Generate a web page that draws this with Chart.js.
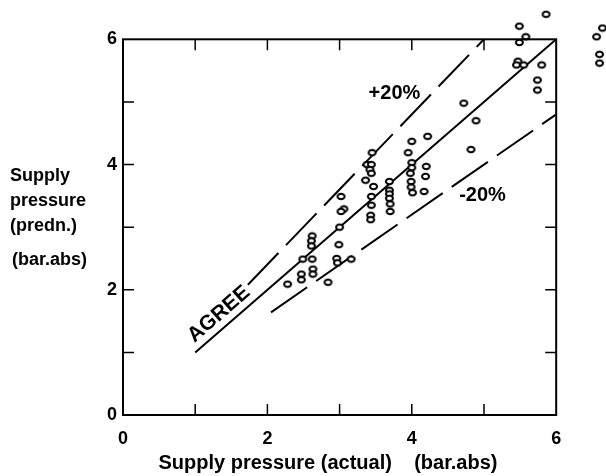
<!DOCTYPE html>
<html>
<head>
<meta charset="utf-8">
<script src="https://cdn.jsdelivr.net/npm/chart.js@4.4.1/dist/chart.umd.min.js"></script>
<style>
  html, body { margin: 0; padding: 0; background: #fff; }
  #wrap { width: 606px; height: 476px; }
</style>
</head>
<body>
<div id="wrap"><canvas id="pressureChart" width="606" height="476"></canvas></div>
<script>
// measured supply pressure (bar.abs)
const actualP = [
  2.28, 2.47, 2.47, 2.49,
  2.62, 2.61, 2.61, 2.62, 2.63, 2.63,
  2.84, 3.16,
  2.96, 2.97, 2.99, 3.00, 3.02, 3.06, 3.02,
  3.45, 3.38, 3.44, 3.42, 3.44, 3.36, 3.47, 3.44, 3.44, 3.43, 3.43,
  3.69, 3.69, 3.69, 3.69, 3.70, 3.70,
  4.00, 3.95, 4.00, 4.00, 3.98, 3.99, 3.99, 4.01, 4.20, 4.19, 4.17, 4.22,
  4.72, 4.89, 4.82,
  5.86, 5.49, 5.58, 5.49, 5.47, 5.45, 5.55, 5.80, 5.74, 5.74,
  6.64, 6.56, 6.60, 6.60
];
// predicted supply pressure (bar.abs)
const predictedP = [
  2.09, 2.25, 2.16, 2.49,
  2.86, 2.78, 2.70, 2.49, 2.33, 2.25,
  2.12, 2.49,
  2.50, 2.43, 2.72, 3.00, 3.49, 3.29, 3.25,
  4.19, 4.00, 4.00, 3.92, 3.86, 3.75, 3.65, 3.49, 3.35, 3.19, 3.12,
  3.73, 3.59, 3.53, 3.46, 3.37, 3.25,
  4.37, 4.19, 4.03, 3.95, 3.86, 3.73, 3.64, 3.55, 3.97, 3.81, 3.57, 4.45,
  4.98, 4.70, 4.24,
  6.40, 6.21, 6.04, 5.95, 5.65, 5.59, 5.59, 5.59, 5.35, 5.19,
  6.18, 6.04, 5.76, 5.62
];

// reference lines: perfect agreement and +/-20 %
const agreeX = [1, 6];
const agreeY = [1, 6];
const plusX = [1.73, 5];
const plusY = [2.08, 6];
const minusX = [2.05, 6];
const minusY = [1.64, 4.8];

const axisTicks = [0, 2, 4, 6];
const minorTicks = [1, 2, 3, 4, 5];
const AXIS_END = 6;

const FONT = '"Liberation Sans", Arial, sans-serif';

function pairs(xs, ys) {
  return xs.map((x, i) => ({ x: x, y: ys[i] }));
}

// small open ellipse used as the point marker
function ringMarker() {
  const c = document.createElement('canvas');
  c.width = 11; c.height = 9;
  const g = c.getContext('2d');
  g.fillStyle = '#fff';
  g.strokeStyle = '#000';
  g.lineWidth = 2;
  g.beginPath();
  g.ellipse(5.5, 4.5, 3.5, 2.7, 0, 0, Math.PI * 2);
  g.fill();
  g.stroke();
  return c;
}

// frame box at 0..6, inward ticks and the text labels
const framePlugin = {
  id: 'frame',
  afterDatasetsDraw(chart) {
    const ctx = chart.ctx;
    const xs = chart.scales.x, ys = chart.scales.y;
    const left = xs.getPixelForValue(0), right = xs.getPixelForValue(AXIS_END);
    const bottom = ys.getPixelForValue(0), top = ys.getPixelForValue(AXIS_END);
    ctx.save();
    ctx.strokeStyle = '#000';
    ctx.lineWidth = 2;
    ctx.strokeRect(left, top, right - left, bottom - top);
    ctx.lineWidth = 1.5;
    const len = 11;
    ctx.beginPath();
    minorTicks.forEach(v => {
      const px = xs.getPixelForValue(v);
      ctx.moveTo(px, bottom); ctx.lineTo(px, bottom - len);
      ctx.moveTo(px, top); ctx.lineTo(px, top + len);
      const py = ys.getPixelForValue(v);
      ctx.moveTo(left, py); ctx.lineTo(left + len, py);
      ctx.moveTo(right, py); ctx.lineTo(right - len, py);
    });
    ctx.stroke();

    ctx.fillStyle = '#000';
    ctx.font = 'bold 20px ' + FONT;
    ctx.textBaseline = 'middle';
    ctx.textAlign = 'center';
    ctx.fillText('+20%', xs.getPixelForValue(3.76), ys.getPixelForValue(5.13));
    ctx.fillText('-20%', xs.getPixelForValue(4.98), ys.getPixelForValue(3.5));

    // AGREE label follows the 1:1 line
    const x0 = xs.getPixelForValue(1.33), y0 = ys.getPixelForValue(1.61);
    const ang = Math.atan2(ys.getPixelForValue(6) - ys.getPixelForValue(1),
                           xs.getPixelForValue(6) - xs.getPixelForValue(1));
    ctx.save();
    ctx.translate(x0, y0);
    ctx.rotate(ang);
    ctx.font = 'bold 21px ' + FONT;
    ctx.fillText('AGREE', 0, 0);
    ctx.restore();

    // axis titles
    ctx.font = 'bold 20px ' + FONT;
    ctx.fillText('Supply pressure (actual)    (bar.abs)', 328, 463);
    ctx.textAlign = 'left';
    ctx.font = 'bold 18px ' + FONT;
    ctx.fillText('Supply', 10, 176);
    ctx.fillText('pressure', 10, 201);
    ctx.fillText('(predn.)', 10, 226);
    ctx.fillText('(bar.abs)', 12, 260);
    ctx.restore();
  }
};

const ctx = document.getElementById('pressureChart').getContext('2d');
const pressureChart = new Chart(ctx, {
  type: 'scatter',
  data: {
    datasets: [
      {
        type: 'line',
        data: pairs(agreeX, agreeY),
        borderColor: '#000',
        borderWidth: 2,
        pointRadius: 0,
        fill: false,
        order: 3
      },
      {
        type: 'line',
        data: pairs(plusX, plusY),
        borderColor: '#000',
        borderWidth: 2,
        borderDash: [44, 11],
        pointRadius: 0,
        fill: false,
        order: 3
      },
      {
        type: 'line',
        data: pairs(minusX, minusY),
        borderColor: '#000',
        borderWidth: 2,
        borderDash: [44, 11],
        pointRadius: 0,
        fill: false,
        order: 3
      },
      {
        data: pairs(actualP, predictedP),
        pointStyle: ringMarker(),
        pointRadius: 4,
        clip: false,
        order: 1
      }
    ]
  },
  options: {
    responsive: false,
    animation: false,
    events: [],
    // plot area runs a little past 6 so the off-scale readings still show
    layout: { autoPadding: false, padding: { left: 0, right: 0, top: 8, bottom: 0 } },
    plugins: {
      legend: { display: false },
      tooltip: { enabled: false }
    },
    scales: {
      x: {
        type: 'linear',
        min: 0,
        max: 6.69,
        afterFit: s => { s.height = 61; s.paddingLeft = 0; s.paddingRight = 0; },
        afterBuildTicks: s => { s.ticks = axisTicks.map(v => ({ value: v })); },
        grid: { display: false, drawTicks: false },
        border: { display: false },
        ticks: {
          color: '#000',
          padding: 13,
          font: { family: FONT, size: 18, weight: 'bold' }
        }
      },
      y: {
        type: 'linear',
        min: 0,
        max: 6.5,
        afterFit: s => { s.width = 123; s.paddingTop = 0; s.paddingBottom = 0; },
        afterBuildTicks: s => { s.ticks = axisTicks.map(v => ({ value: v })); },
        grid: { display: false, drawTicks: false },
        border: { display: false },
        ticks: {
          color: '#000',
          padding: 6,
          font: { family: FONT, size: 18, weight: 'bold' }
        }
      }
    }
  },
  plugins: [framePlugin]
});
</script>
</body>
</html>
